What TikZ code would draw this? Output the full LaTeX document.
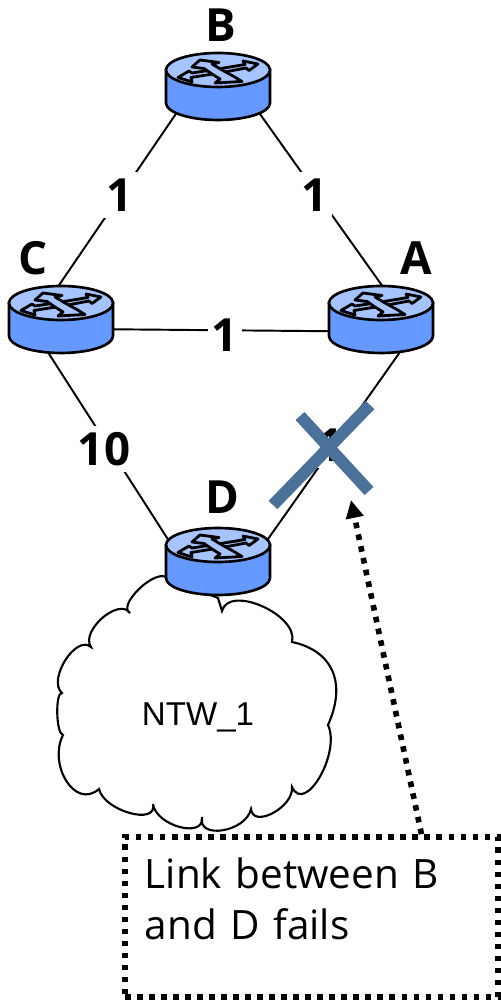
\documentclass[tikz,border=0pt]{standalone}
\usepackage{fontspec}
\setmainfont{Open Sans}
\newfontfamily\cloudfont{Liberation Sans}
\usetikzlibrary{arrows.meta}
\definecolor{routertop}{HTML}{A6C4FF}
\definecolor{routerside}{HTML}{6699FF}
\definecolor{crossblue}{HTML}{4A7199}

\begin{document}
\begin{tikzpicture}
  [x=.01cm,y=-.01cm,
   router/.style={rectangle,inner sep=0pt,minimum width=1.04cm,minimum height=.67cm},
   routername/.style={font=\fontsize{13}{15}\selectfont\bfseries},
   weight/.style={fill=white,inner sep=1pt,minimum height=.46cm,font=\fontsize{13}{15}\selectfont\bfseries},
   link/.style={line width=.55pt,shorten <=-4pt,shorten >=-4pt},
   dotline/.style={line width=1.6pt,dash pattern=on 1.6pt off 1.82pt},
   pics/routerpic/.style={code={
     \draw[line width=.75pt,fill=routerside] (-52,-17) -- (-52,16) arc[start angle=180,end angle=360,x radius=52,y radius=-17] -- (52,-17) -- cycle;
     \draw[line width=.75pt,fill=routertop] (0,-17) ellipse[x radius=52,y radius=17];
     \draw[line width=.8pt,fill=routertop,line join=round]
       (40,-23) -- (25,-26) -- (27,-22.5) -- (-3,-17.5) -- (-26,-14) -- (-29,-16) -- (-40,-9.5) -- (-26,-5) -- (-27,-9.5) -- (4,-14.5) -- (28,-19) -- (31,-16.5) -- cycle;
     \draw[line width=.8pt,fill=routertop,line join=round]
       (-26,-20) -- (-18,-27) -- (1,-24.5) -- (-6,-23) -- (4,-17) -- (15,-11) -- (24,-5.5) -- (-3,-4) -- (2,-8) -- (-6,-13) -- (-14,-18.5) -- cycle;
   }}]
  \useasboundingbox (0,0) rectangle (500,1001);

  % cloud
  \draw[line width=.6pt,fill=white] (166,577)
    .. controls (153,570) and (117,606) .. (130,613)
    .. controls (119,597) and (80,631) .. (91,647)
    .. controls (76,634) and (47,680) .. (62,693)
    .. controls (55,692) and (56,734) .. (63,735)
    .. controls (48,765) and (75,810) .. (99,789)
    .. controls (104,811) and (158,826) .. (153,804)
    .. controls (156,826) and (205,839) .. (202,817)
    .. controls (197,840) and (246,832) .. (251,809)
    .. controls (253,829) and (294,807) .. (292,787)
    .. controls (305,815) and (341,753) .. (328,725)
    .. controls (348,680) and (330,650) .. (292,642)
    .. controls (299,615) and (229,584) .. (222,611)
    -- (218,598) -- cycle;
  \node[font=\cloudfont\fontsize{9.4}{12}\selectfont] (ntw) at (198,717) {NTW\_1};

  \node[router] (b) at (218,87) {};
  \node[router] (c) at (61,320) {};
  \node[router] (a) at (381,320) {};
  \node[router] (d) at (218,562) {};

  \foreach \from/\to in {b.216/c.94,b.324/a.88,c.350/a.192,c.251/d.153,a.297/d.27}
    \draw[link] (\from) -- (\to);

  \foreach \n in {a,b,c,d}
    \pic at (\n) {routerpic};

  \node[routername] (nb) at (221,25) {B};
  \node[routername] (nc) at (33,258) {C};
  \node[routername] (na) at (416,258) {A};
  \node[routername] (nd) at (222,497) {D};

  \node[weight] (w1) at (120,195) {1};
  \node[weight] (w2) at (315,195) {1};
  \node[weight] (w3) at (225,335) {1};
  \node[weight] (w4) at (104,449) {10};
  \node[weight] (w5) at (331,445) {1};

  % failed link
  \coordinate (x1) at (273,505);
  \coordinate (x2) at (370,405);
  \coordinate (x3) at (300,416);
  \coordinate (x4) at (369,491);
  \draw[crossblue,line width=.12cm] (x1) -- (x2);
  \draw[crossblue,line width=.12cm] (x3) -- (x4);

  \node[draw,dotline,rectangle,minimum width=3.73cm,minimum height=1.6cm,text width=3.33cm,
        inner sep=0pt,align=left,font=\fontsize{11.5}{14.5}\selectfont] (msg) at (311.5,917)
        {Link between B\\and D fails\\[-4pt]\mbox{}};
  \coordinate (tip) at (351,500);
  \draw[dotline,-{Triangle[length=.18cm,width=.17cm]}] (msg.37.5) -- (tip);
\end{tikzpicture}
\end{document}
